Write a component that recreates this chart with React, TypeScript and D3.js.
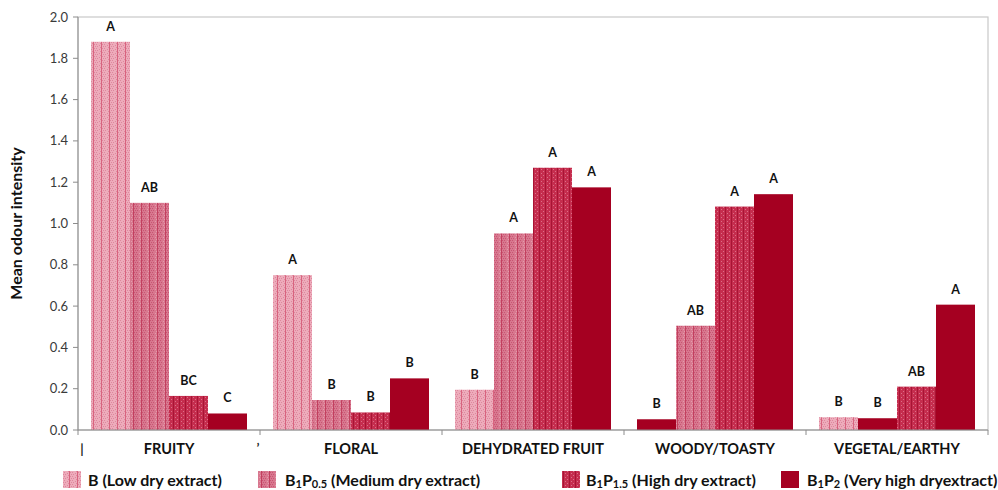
import React from "react";
import * as d3 from "d3";

// Odour attributes (x categories)
const categories = ["FRUITY", "FLORAL", "DEHYDRATED FRUIT", "WOODY/TOASTY", "VEGETAL/EARTHY"];

// Mean odour intensity per wine, in category order
const seriesB = [1.88, 0.75, 0.195, 0.052, 0.062];
const seriesB1P05 = [1.1, 0.145, 0.952, 0.505, 0.057];
const seriesB1P15 = [0.165, 0.085, 1.27, 1.082, 0.21];
const seriesB1P2 = [0.08, 0.25, 1.175, 1.142, 0.607];

// Significance letters above each bar
const lettersB = ["A", "A", "B", "B", "B"];
const lettersB1P05 = ["AB", "B", "A", "AB", "B"];
const lettersB1P15 = ["BC", "B", "A", "A", "AB"];
const lettersB1P2 = ["C", "B", "A", "A", "A"];

const yTicks = [0, 0.2, 0.4, 0.6, 0.8, 1.0, 1.2, 1.4, 1.6, 1.8, 2.0];

type Series = { key: string; values: number[]; letters: string[]; fill: string };

const series: Series[] = [
  { key: "B", values: seriesB, letters: lettersB, fill: "url(#patB)" },
  { key: "B1P05", values: seriesB1P05, letters: lettersB1P05, fill: "url(#patB05)" },
  { key: "B1P15", values: seriesB1P15, letters: lettersB1P15, fill: "url(#patB15)" },
  { key: "B1P2", values: seriesB1P2, letters: lettersB1P2, fill: "#a50021" },
];

// bars whose hatch fill printed as plain solid colour: [category index, series index]
const solidBars: [number, number][] = [
  [3, 0],
  [4, 1],
];

const W = 998;
const H = 490;
const left = 78;
const top = 17;
const right = 988;
const bottom = 430;
const FONT = "Lato, 'Open Sans', sans-serif";

export default function App() {
  const x0 = d3.scaleBand<string>().domain(categories).range([left, right]).paddingInner(0).paddingOuter(0);
  const x1 = d3
    .scaleBand<string>()
    .domain(series.map((s) => s.key))
    .range([0, x0.bandwidth()])
    .paddingInner(0)
    .paddingOuter(1 / 3);
  const y = d3.scaleLinear().domain([0, 2]).range([bottom, top]);

  const isSolid = (ci: number, si: number) => solidBars.some(([c, s]) => c === ci && s === si);

  const boundaries = categories.map((c) => x0(c) as number).concat([right]);

  const legendItems = [
    { fill: "url(#patB)", sx: 63, tx: 88, parts: [["B (Low dry extract)", ""]] },
    {
      fill: "url(#patB05)",
      sx: 258,
      tx: 285,
      parts: [["B", ""], ["1", "sub"], ["P", ""], ["0.5", "sub"], [" (Medium dry extract)", ""]],
    },
    {
      fill: "url(#patB15)",
      sx: 562,
      tx: 586,
      parts: [["B", ""], ["1", "sub"], ["P", ""], ["1.5", "sub"], [" (High dry extract)", ""]],
    },
    {
      fill: "#a50021",
      sx: 781,
      tx: 807,
      parts: [["B", ""], ["1", "sub"], ["P", ""], ["2", "sub"], [" (Very high dry", ""], ["extract)", ""]],
    },
  ];

  return (
    <svg width={W} height={H} style={{ display: "block", position: "absolute", left: 0, top: 0 }}>
      <defs>
        <pattern id="patB" width="8" height="4" patternUnits="userSpaceOnUse" x={left}>
          <rect width="8" height="4" fill="#edacbb" />
          <rect x="0" y="0" width="1" height="1" fill="#de879e" />
          <rect x="2" y="0" width="1" height="1" fill="#de879e" />
          <rect x="1" y="2" width="1" height="1" fill="#de879e" />
          <rect x="3" y="2" width="1" height="1" fill="#de879e" />
          <rect x="5" y="1" width="1" height="1" fill="#de879e" />
          <rect x="6" y="3" width="1" height="1" fill="#de879e" />
          <rect x="7" y="0" width="1.3" height="4" fill="#d8647f" />
        </pattern>
        <pattern id="patB05" width="8" height="4" patternUnits="userSpaceOnUse" x={left}>
          <rect width="8" height="4" fill="#d8788f" />
          <rect x="0" y="0" width="1" height="1" fill="#c95473" />
          <rect x="2" y="0" width="1" height="1" fill="#c95473" />
          <rect x="1" y="2" width="1" height="1" fill="#c95473" />
          <rect x="3" y="2" width="1" height="1" fill="#c95473" />
          <rect x="5" y="1" width="1" height="1" fill="#e59aac" />
          <rect x="6" y="3" width="1" height="1" fill="#e59aac" />
          <rect x="7" y="0" width="1.3" height="4" fill="#c2405f" />
        </pattern>
        <pattern id="patB15" width="6" height="4" patternUnits="userSpaceOnUse" x={left}>
          <rect width="6" height="4" fill="#c52d4e" />
          <rect x="1" y="1" width="1" height="1" fill="#dc6f87" />
          <rect x="3" y="3" width="1" height="1" fill="#dc6f87" />
          <rect x="5" y="0" width="1" height="4" fill="#a81434" />
        </pattern>
      </defs>

      {/* plot frame */}
      <rect x={left} y={top} width={right - left} height={bottom - top} fill="none" stroke="#c9c9c9" strokeWidth={1.2} />

      {/* bars */}
      {categories.map((c, ci) =>
        series.map((s, si) => {
          const v = s.values[ci];
          const bx = (x0(c) as number) + (x1(s.key) as number);
          return (
            <rect
              key={`${c}-${s.key}`}
              x={bx}
              y={y(v)}
              width={x1.bandwidth()}
              height={y(0) - y(v)}
              fill={isSolid(ci, si) ? "#a50021" : s.fill}
            />
          );
        })
      )}

      {/* significance letters */}
      {categories.map((c, ci) =>
        series.map((s) => {
          const v = s.values[ci];
          const cx = (x0(c) as number) + (x1(s.key) as number) + x1.bandwidth() / 2;
          return (
            <text
              key={`l-${c}-${s.key}`}
              x={cx}
              y={y(v) - 11}
              textAnchor="middle"
              fontFamily={FONT}
              fontWeight={700}
              fontSize={12.5}
              fill="#111"
            >
              {s.letters[ci]}
            </text>
          );
        })
      )}

      {/* y axis */}
      <line x1={left} x2={left} y1={top} y2={bottom} stroke="#8c8c8c" strokeWidth={1} />
      {yTicks.map((t) => (
        <g key={t}>
          <line x1={left - 5} x2={left} y1={y(t)} y2={y(t)} stroke="#8c8c8c" />
          <text
            x={left - 10}
            y={y(t)}
            dy="0.35em"
            textAnchor="end"
            fontFamily={FONT}
            fontSize={13}
            fill="#3a3a3a"
          >
            {d3.format(".1f")(t)}
          </text>
        </g>
      ))}
      <text
        transform={`translate(22,${(top + bottom) / 2}) rotate(-90)`}
        textAnchor="middle"
        fontFamily={FONT}
        fontWeight={700}
        fontSize={16}
        fill="#111"
      >
        Mean odour intensity
      </text>

      {/* x axis */}
      <line x1={left} x2={right} y1={bottom} y2={bottom} stroke="#8c8c8c" strokeWidth={1} />
      {boundaries.map((bx, i) => (
        <line key={i} x1={bx} x2={bx} y1={bottom} y2={bottom + 5} stroke="#8c8c8c" />
      ))}
      {categories.map((c) => (
        <text
          key={c}
          x={(x0(c) as number) + x0.bandwidth() / 2}
          y={454}
          textAnchor="middle"
          fontFamily={FONT}
          fontWeight={700}
          fontSize={14.5}
          fill="#111"
        >
          {c}
        </text>
      ))}
      <text x={82} y={454} textAnchor="middle" fontFamily={FONT} fontWeight={700} fontSize={13} fill="#222">
        |
      </text>
      <text x={258} y={453} textAnchor="middle" fontFamily={FONT} fontWeight={700} fontSize={13} fill="#222">
        ʼ
      </text>

      {/* legend */}
      {legendItems.map((it, i) => (
        <g key={i}>
          <rect x={it.sx} y={471} width={18} height={17} fill={it.fill} />
          <text x={it.tx} y={486} fontFamily={FONT} fontWeight={700} fontSize={16} fill="#111">
            {it.parts.map(([t, kind], j) =>
              kind === "sub" ? (
                <tspan key={j} fontSize={11} dy={2}>
                  {t}
                </tspan>
              ) : (
                <tspan key={j} dy={j > 0 && it.parts[j - 1][1] === "sub" ? -2 : 0}>
                  {t}
                </tspan>
              )
            )}
          </text>
        </g>
      ))}
    </svg>
  );
}
